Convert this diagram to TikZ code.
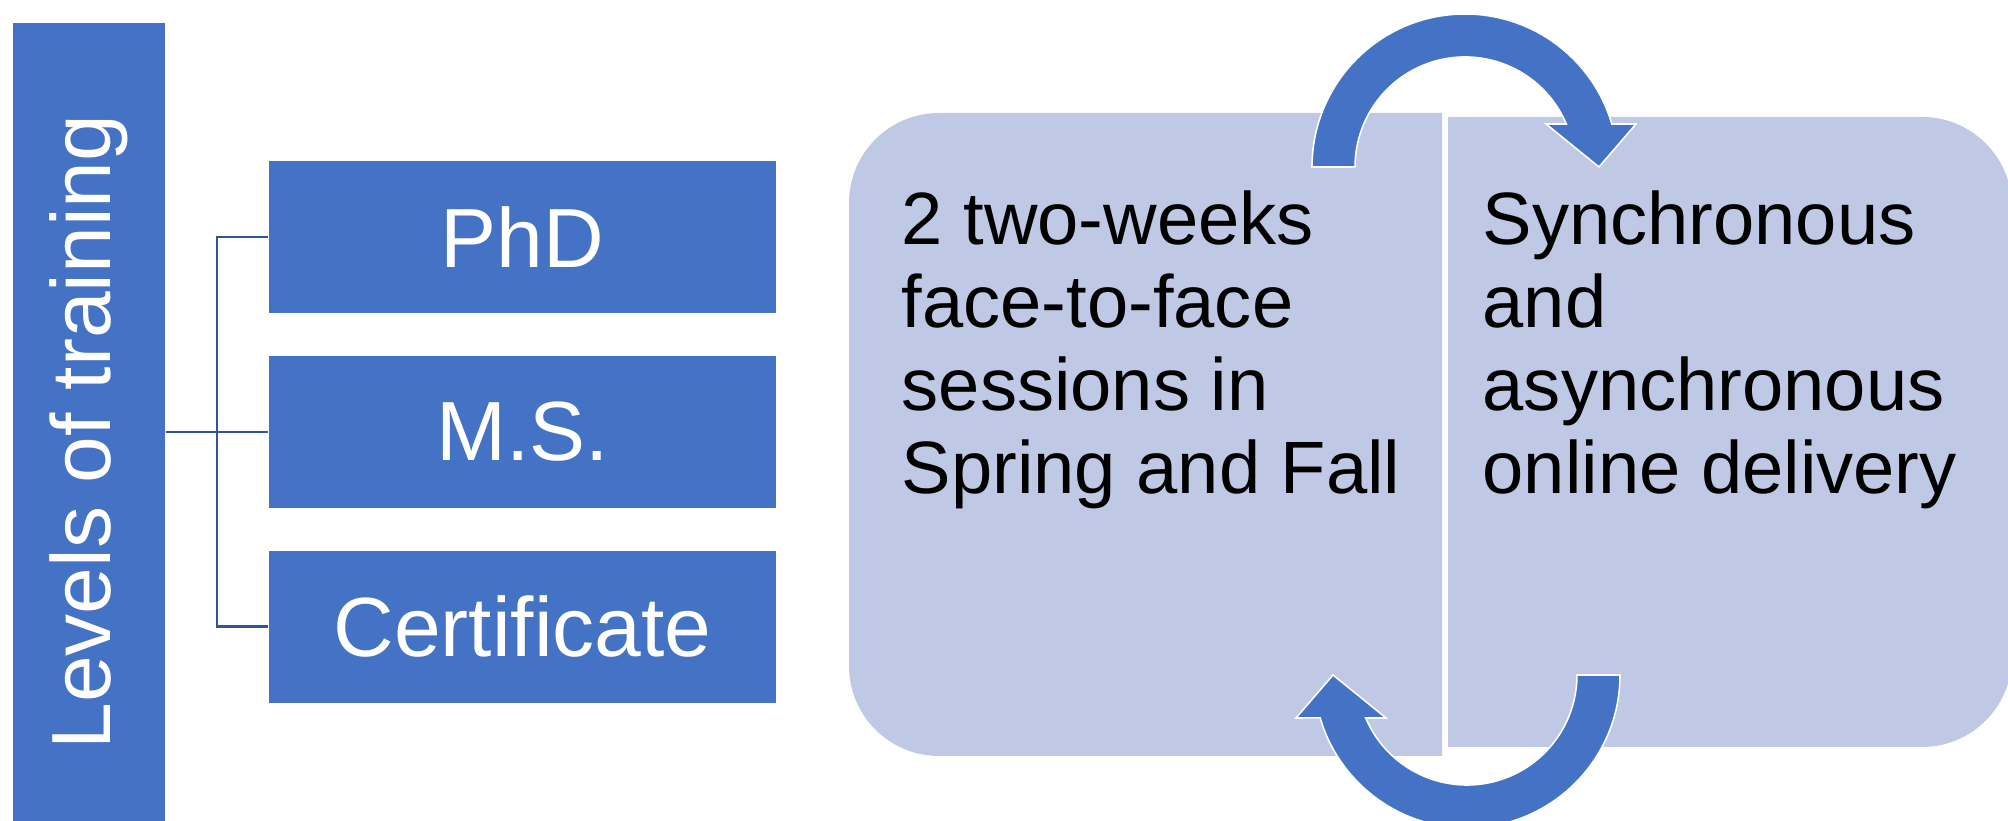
\documentclass[tikz,border=0pt]{standalone}
\usepackage{fontspec}
\setmainfont{Liberation Sans}
\usetikzlibrary{positioning}
\definecolor{ltBlue}{RGB}{68,114,196}
\definecolor{ltLine}{RGB}{47,85,151}
\definecolor{ltPanel}{RGB}{191,200,228}
\tikzset{
    base/.style={font=\fontsize{23.9pt}{27pt}\selectfont, align=center},
    level/.style={base, rectangle, fill=ltBlue, text=white, inner sep=0pt,
                  minimum width=5.07cm, minimum height=1.52cm},
    link/.style={ltLine, line width=0.75pt},
    panel/.style={fill=ltPanel},
    note/.style={font=\fontsize{21.1pt}{23.6pt}\selectfont, align=left,
                 anchor=north west, inner sep=0pt},
    turn/.style={fill=ltBlue, draw=white, line width=0.45pt},
    cyclearrow/.pic={
        \path[turn] (-1.53,0) arc[start angle=180, end angle=16.3, radius=1.53]
            -- (1.71,0.43) -- (1.34,0) -- (0.81,0.43) -- (1.013,0.43)
            arc[start angle=23, end angle=180, radius=1.10] -- cycle;
    }
}

\begin{document}
\begin{tikzpicture}
  \useasboundingbox (0,0) rectangle (20.08,8.21);
  \clip (0,0) rectangle (20.08,8.21);

  % levels of training
  \node[base, fill=ltBlue, text=white, rotate=90, inner sep=0pt,
        minimum width=8.18cm, minimum height=1.52cm] (levels) at (0.89,3.89) {Levels of training};
  \node[level] (phd) at (5.225,5.84) {PhD};
  \node[level, below=0.415cm of phd] (ms) {M.S.};
  \node[level, below=0.415cm of ms] (cert) {Certificate};

  \coordinate (spine) at (2.17,3.905);
  \draw[link] (ms.west -| levels.south) -- (ms.west);
  \draw[link] (phd.west) -| (spine) |- (cert.west);

  % delivery panels
  \fill[panel] (14.42,0.65) -- (9.39,0.65) arc[start angle=270, end angle=180, radius=0.9]
      -- (8.49,6.18) arc[start angle=180, end angle=90, radius=0.9] -- (14.42,7.08) -- cycle;
  \fill[panel] (14.48,0.74) -- (19.22,0.74) arc[start angle=270, end angle=360, radius=0.9]
      -- (20.12,6.14) arc[start angle=0, end angle=90, radius=0.9] -- (14.48,7.04) -- cycle;

  \node[note] (face) at (9.01,6.31) {2 two-weeks\\face-to-face\\sessions in\\Spring and Fall};
  \node[note] (online) at (14.82,6.31) {Synchronous\\and\\asynchronous\\online delivery};

  % cycle arrows
  \pic at (14.65,6.54) {cyclearrow};
  \pic[rotate=180] at (14.67,1.46) {cyclearrow};
\end{tikzpicture}
\end{document}
